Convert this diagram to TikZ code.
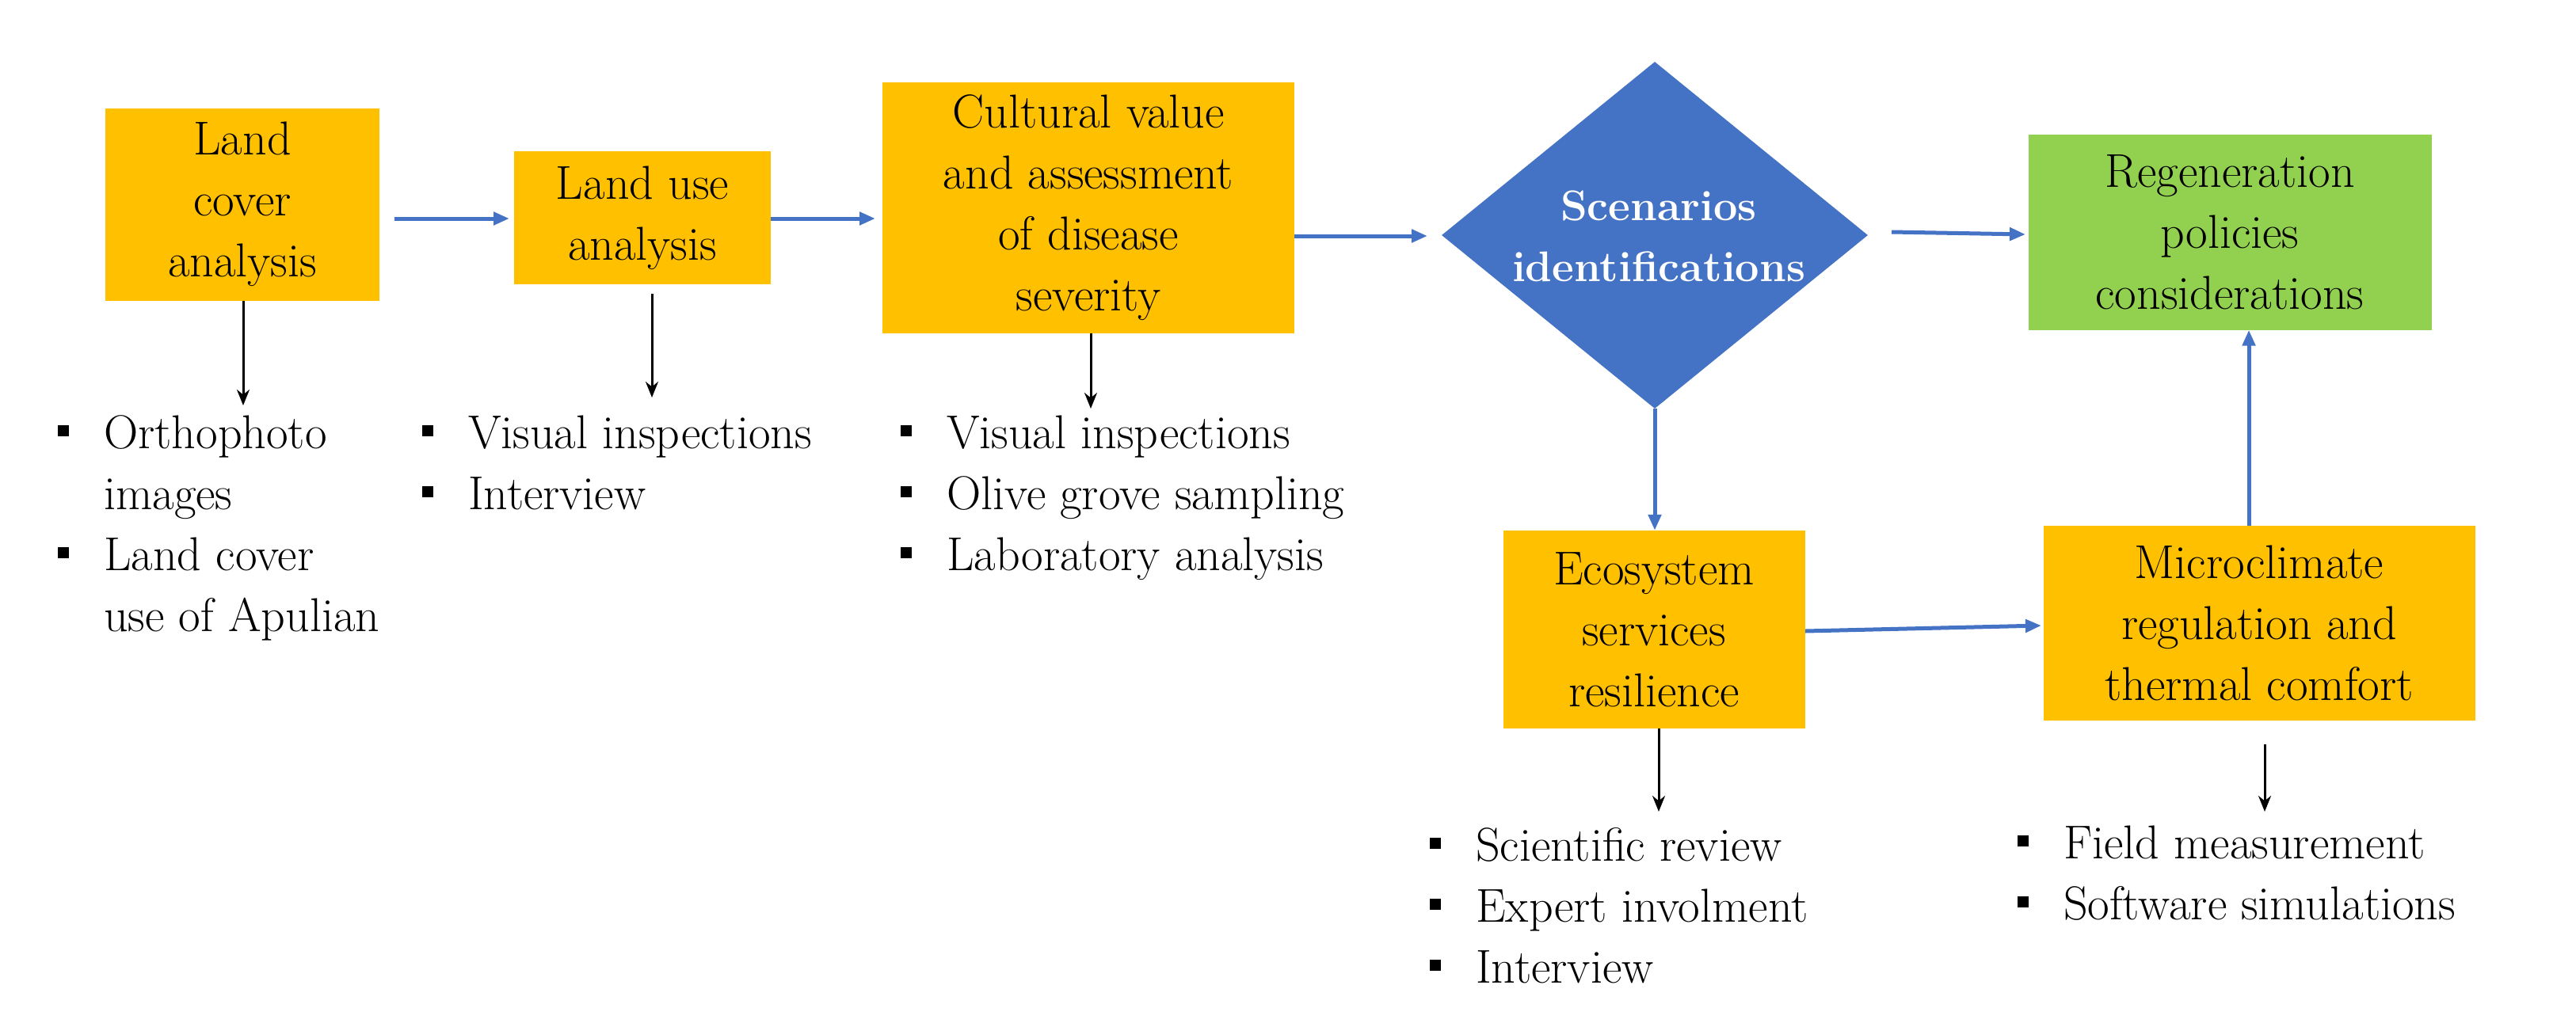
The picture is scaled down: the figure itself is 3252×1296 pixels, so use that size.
\documentclass[tikz,border=0pt]{standalone}
\usetikzlibrary{shapes.geometric,arrows.meta}
\definecolor{orng}{HTML}{FFC000}
\definecolor{blu}{HTML}{4472C4}
\definecolor{grn}{HTML}{92D050}
\newcommand{\sqb}{\rule[15pt]{14pt}{14pt}}
\tikzset{
  txt/.style={font=\fontsize{60}{77}\selectfont},
  obox/.style={txt,fill=orng,inner sep=0pt,align=center},
  gbox/.style={txt,fill=grn,inner sep=0pt,align=center},
  flow/.style={draw=blu,line width=5pt,-{Triangle[length=20pt,width=16pt]}},
  sub/.style={draw=black,line width=3pt,-{Stealth[length=20pt,width=16pt]}},
  lst/.style={txt,anchor=north west,inner sep=0pt,align=left}
}
\begin{document}
\begin{tikzpicture}[x=1pt,y=-1pt]
\useasboundingbox (0,0) rectangle (3252,1296);
\node[obox,minimum width=346pt,minimum height=243pt] (b1) at (306,258) {Land\\cover\\analysis};
\node[obox,minimum width=324pt,minimum height=168pt] (b2) at (811,275) {Land use\\analysis};
\node[obox,minimum width=520pt,minimum height=317pt] (b3) at (1374,262) {Cultural value\\and assessment\\of disease\\severity};
\node[diamond,aspect=1.228,fill=blu,inner sep=0pt,minimum width=538pt,minimum height=438pt] (d) at (2089,297) {};
\node[font=\fontsize{54}{77}\selectfont\bfseries,text=white,align=center] (dt) at (2094,298) {Scenarios\\identifications};
\node[gbox,minimum width=509pt,minimum height=247pt] (g) at (2815,293) {Regeneration\\policies\\considerations};
\node[obox,minimum width=381pt,minimum height=250pt] (e) at (2088,795) {Ecosystem\\services\\resilience};
\node[obox,minimum width=545pt,minimum height=246pt] (m) at (2852,787) {Microclimate\\regulation and\\thermal comfort};

\coordinate (a1s) at (498,276); \coordinate (a1e) at (643,276);
\coordinate (a2s) at (973,276); \coordinate (a2e) at (1105,276);
\coordinate (a3s) at (1634,298); \coordinate (a3e) at (1802,298);
\coordinate (a4s) at (2388,293); \coordinate (a4e) at (2557,296);
\coordinate (a6s) at (2279,797); \coordinate (a6e) at (2577,790);
\draw[flow] (a1s) -- (a1e);
\draw[flow] (a2s) -- (a2e);
\draw[flow] (a3s) -- (a3e);
\draw[flow] (a4s) -- (a4e);
\draw[flow] (d.south) -- (e.north -| d.south);
\draw[flow] (a6s) -- (a6e);
\draw[flow] (m.north -| 2839,0) -- (g.south -| 2839,0);

\coordinate (c1) at (307,512);
\coordinate (c2) at (823,502);
\coordinate (c3) at (1377,516);
\coordinate (c4) at (2094,1025);
\coordinate (c5) at (2859,1025);
\draw[sub] (b1.south -| c1) -- (c1);
\draw[sub] (823,371) coordinate (s2) -- (c2);
\draw[sub] (b3.south -| c3) -- (c3);
\draw[sub] (e.south -| c4) -- (c4);
\draw[sub] (2859,940) coordinate (s5) -- (c5);

\node[lst] (l1) at (73,512) {\begin{tabular}{@{}l@{\hspace{44pt}}l@{}}\sqb&Orthophoto\\ &images\\ \sqb&Land cover\\ &use of Apulian\end{tabular}};
\node[lst] (l2) at (533,512) {\begin{tabular}{@{}l@{\hspace{44pt}}l@{}}\sqb&Visual inspections\\ \sqb&Interview\end{tabular}};
\node[lst] (l3) at (1137,512) {\begin{tabular}{@{}l@{\hspace{44pt}}l@{}}\sqb&Visual inspections\\ \sqb&Olive grove sampling\\ \sqb&Laboratory analysis\end{tabular}};
\node[lst] (l4) at (1805,1033) {\begin{tabular}{@{}l@{\hspace{44pt}}l@{}}\sqb&Scientific review\\ \sqb&Expert involment\\ \sqb&Interview\end{tabular}};
\node[lst] (l5) at (2547,1030) {\begin{tabular}{@{}l@{\hspace{44pt}}l@{}}\sqb&Field measurement\\ \sqb&Software simulations\end{tabular}};
\end{tikzpicture}
\end{document}
